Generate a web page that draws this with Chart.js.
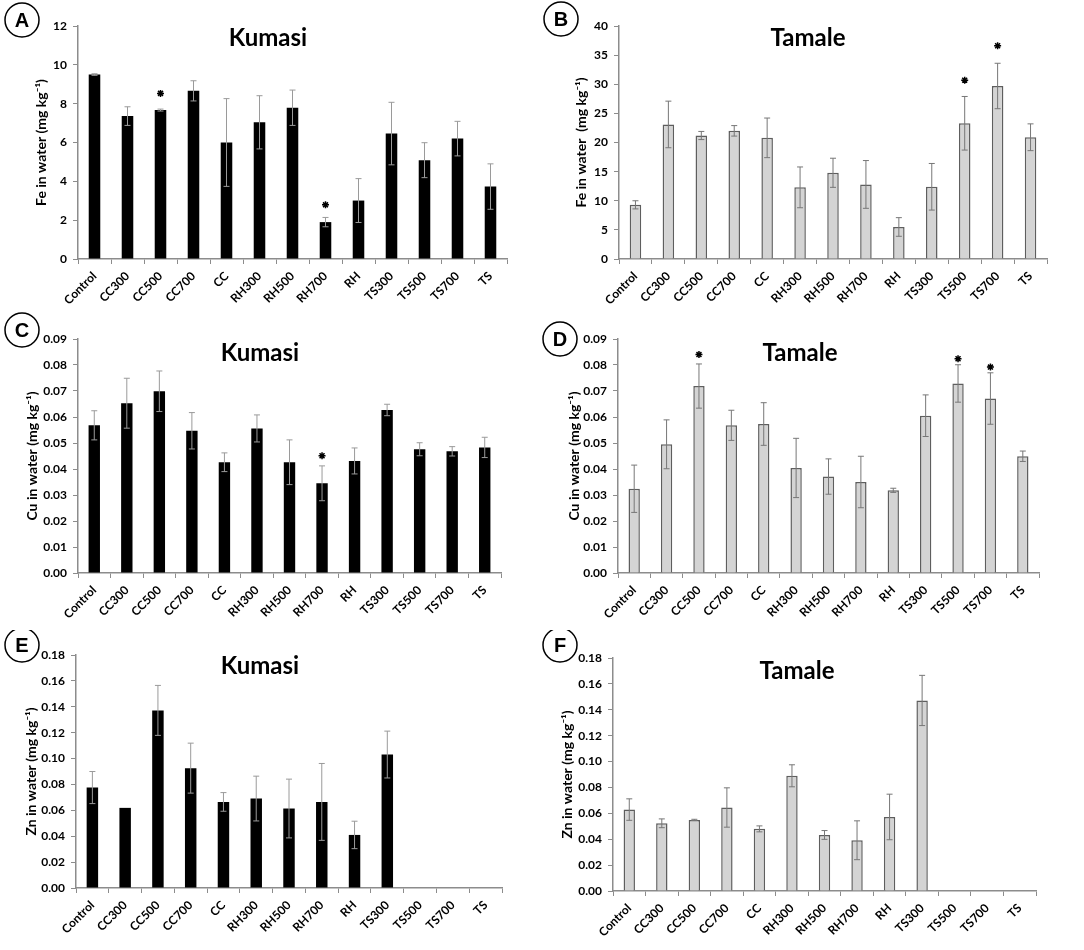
<!DOCTYPE html>
<html>
<head>
<meta charset="utf-8">
<script src="https://cdn.jsdelivr.net/npm/chart.js@4.4.0/dist/chart.umd.min.js"></script>
<style>
  body { margin: 0; background: #fff; width: 1084px; height: 950px; position: relative; overflow: hidden; }
  .panel { position: absolute; }
</style>
</head>
<body>
<div class="panel" style="left:0;top:0"><canvas id="panelA" width="540" height="310"></canvas></div>
<div class="panel" style="left:540px;top:0"><canvas id="panelB" width="544" height="310"></canvas></div>
<div class="panel" style="left:0;top:310px"><canvas id="panelC" width="540" height="320"></canvas></div>
<div class="panel" style="left:540px;top:310px"><canvas id="panelD" width="544" height="320"></canvas></div>
<div class="panel" style="left:0;top:630px"><canvas id="panelE" width="540" height="320"></canvas></div>
<div class="panel" style="left:540px;top:630px"><canvas id="panelF" width="544" height="320"></canvas></div>
<script>
const categories = ['Control', 'CC300', 'CC500', 'CC700', 'CC', 'RH300', 'RH500', 'RH700', 'RH', 'TS300', 'TS500', 'TS700', 'TS'];

// Fe (mg kg-1)
const feKumasi = [9.5, 7.36, 7.67, 8.66, 6.0, 7.04, 7.79, 1.9, 3.01, 6.46, 5.09, 6.2, 3.73];
const feKumasiErr = [0.04, 0.48, 0.05, 0.52, 2.26, 1.37, 0.91, 0.24, 1.13, 1.61, 0.9, 0.89, 1.17];
const feKumasiStars = [null, null, 8.53, null, null, null, null, 2.79, null, null, null, null, null];
const feTamale = [9.3, 23.1, 21.2, 22.0, 20.8, 12.3, 14.8, 12.8, 5.5, 12.4, 23.3, 29.7, 20.9];
const feTamaleErr = [0.7, 4.0, 0.7, 0.9, 3.4, 3.5, 2.5, 4.1, 1.6, 4.0, 4.6, 3.9, 2.3];
const feTamaleStars = [null, null, null, null, null, null, null, null, null, null, 30.7, 36.6, null];

// Cu (mg kg-1)
const cuKumasi = [0.0568, 0.0653, 0.0699, 0.0547, 0.0426, 0.0556, 0.0426, 0.0345, 0.0431, 0.0627, 0.0476, 0.0468, 0.0483];
const cuKumasiErr = [0.0056, 0.0096, 0.0078, 0.007, 0.0036, 0.0052, 0.0086, 0.0067, 0.005, 0.0022, 0.0025, 0.0018, 0.0039];
const cuKumasiStars = [null, null, null, null, null, null, null, 0.0451, null, null, null, null, null];
const cuTamale = [0.0324, 0.0495, 0.0719, 0.0568, 0.0573, 0.0404, 0.0371, 0.035, 0.0318, 0.0605, 0.0729, 0.0671, 0.0449];
const cuTamaleErr = [0.0091, 0.0094, 0.0085, 0.0058, 0.0082, 0.0114, 0.0068, 0.0099, 0.0008, 0.008, 0.0072, 0.0099, 0.002];
const cuTamaleStars = [null, null, 0.084, null, null, null, null, null, null, null, 0.0824, 0.0792, null];

// Zn (mg kg-1)
const znKumasi = [0.0776, 0.0619, 0.1372, 0.0926, 0.0665, 0.0691, 0.0614, 0.0665, 0.041, 0.1031, null, null, null];
const znKumasiErr = [0.0124, 0, 0.0193, 0.0193, 0.0072, 0.0173, 0.0227, 0.0297, 0.0106, 0.0181, null, null, null];
const znTamale = [0.0629, 0.0523, 0.0549, 0.0645, 0.048, 0.089, 0.0433, 0.0392, 0.0572, 0.1472, null, null, null];
const znTamaleErr = [0.0083, 0.0034, 0.0005, 0.0152, 0.0023, 0.0085, 0.0034, 0.015, 0.0176, 0.0194, null, null, null];

// y tick labels
const feKumasiTicks = [0, 2, 4, 6, 8, 10, 12];
const feTamaleTicks = [0, 5, 10, 15, 20, 25, 30, 35, 40];
const cuTicks = [0, 0.01, 0.02, 0.03, 0.04, 0.05, 0.06, 0.07, 0.08, 0.09];
const znTicks = [0, 0.02, 0.04, 0.06, 0.08, 0.10, 0.12, 0.14, 0.16, 0.18];

const FONT = 'Lato, "Open Sans", sans-serif';
const AXIS = '#8c8c8c';

// error bars, panel title and circled letter
const panelDecor = {
  id: 'panelDecor',
  afterDatasetsDraw(chart, args, opts) {
    const ctx = chart.ctx;
    const yScale = chart.scales.y;
    const meta = chart.getDatasetMeta(0);
    ctx.save();
    ctx.strokeStyle = opts.errColor;
    ctx.lineWidth = 1;
    opts.values.forEach((v, i) => {
      const e = opts.errors[i];
      if (v == null || !e) return;
      const x = meta.data[i].x;
      const yt = yScale.getPixelForValue(v + e);
      const yb = yScale.getPixelForValue(v - e);
      ctx.beginPath();
      ctx.moveTo(x, yt); ctx.lineTo(x, yb);
      ctx.moveTo(x - 3, yt); ctx.lineTo(x + 3, yt);
      ctx.moveTo(x - 3, yb); ctx.lineTo(x + 3, yb);
      ctx.stroke();
    });

    ctx.fillStyle = '#000';
    ctx.textAlign = 'center';
    ctx.textBaseline = 'middle';
    ctx.font = 'bold 24px ' + FONT;
    ctx.fillText(opts.title, opts.titleX, opts.titleY);

    ctx.strokeStyle = '#000';
    ctx.lineWidth = 1.5;
    ctx.beginPath();
    ctx.arc(opts.circle[0], opts.circle[1], 17, 0, Math.PI * 2);
    ctx.stroke();
    ctx.font = 'bold 20px "Liberation Sans", Arial, sans-serif';
    ctx.fillText(opts.letter, opts.circle[0], opts.circle[1] + 1);
    ctx.restore();
  }
};

function makePanel(id, p) {
  const canvas = document.getElementById(id);
  const w = canvas.width, h = canvas.height;
  const dark = p.site === 'Kumasi';
  new Chart(canvas, {
    type: 'bar',
    data: {
      labels: categories,
      datasets: [
        {
          type: 'bar',
          data: p.values,
          backgroundColor: dark ? '#000' : '#d4d4d4',
          borderColor: dark ? '#000' : '#5e5e5e',
          borderWidth: dark ? 0 : 1.5,
          barPercentage: 0.35,
          categoryPercentage: 1
        },
        {
          type: 'line',
          data: p.stars,
          showLine: false,
          pointStyle: 'star',
          pointRadius: 3.5,
          borderColor: '#000',
          backgroundColor: '#000',
          borderWidth: 1.5
        }
      ]
    },
    options: {
      responsive: false,
      animation: false,
      layout: { padding: { left: 0, top: p.area[1], right: w - p.area[2], bottom: 0 } },
      plugins: {
        legend: { display: false },
        tooltip: { enabled: false },
        panelDecor: {
          values: p.values, errors: p.errors,
          errColor: dark ? '#9a9a9a' : '#777',
          title: p.site, titleX: p.titlePos[0], titleY: p.titlePos[1],
          letter: p.letter, circle: p.circle
        }
      },
      scales: {
        x: {
          afterFit: s => { s.height = h - p.area[3]; },
          ticks: { color: '#000', font: { family: FONT, weight: 'bold', size: 12 }, minRotation: 45, maxRotation: 45, autoSkip: false, padding: 5 },
          grid: { offset: true, drawOnChartArea: false, tickLength: 5, color: AXIS },
          border: { color: AXIS, width: 1.5 }
        },
        y: {
          min: p.ticks[0],
          max: p.ticks[p.ticks.length - 1],
          afterBuildTicks: s => { s.ticks = p.ticks.map(v => ({ value: v })); },
          afterFit: s => { s.width = p.area[0]; },
          ticks: { color: '#000', font: { family: FONT, weight: 'bold', size: 12 }, padding: 6, callback: v => v.toFixed(p.decimals) },
          grid: { drawOnChartArea: false, tickLength: 5, color: AXIS },
          border: { color: AXIS, width: 1.5 },
          title: { display: true, text: p.yTitle, color: '#000', font: { family: FONT, weight: 'bold', size: 14 }, padding: { top: p.yTitlePad, bottom: 0 } }
        }
      }
    },
    plugins: [panelDecor]
  });
}

makePanel('panelA', { site: 'Kumasi', letter: 'A', values: feKumasi, errors: feKumasiErr, stars: feKumasiStars,
  ticks: feKumasiTicks, decimals: 0, yTitle: 'Fe in water (mg kg⁻¹)', yTitlePad: 33,
  area: [78, 26, 507, 259], titlePos: [268, 38], circle: [22, 20] });
makePanel('panelB', { site: 'Tamale', letter: 'B', values: feTamale, errors: feTamaleErr, stars: feTamaleStars,
  ticks: feTamaleTicks, decimals: 0, yTitle: 'Fe in water  (mg kg⁻¹)', yTitlePad: 33,
  area: [79, 26, 507, 259], titlePos: [268, 38], circle: [21, 19] });
makePanel('panelC', { site: 'Kumasi', letter: 'C', values: cuKumasi, errors: cuKumasiErr, stars: cuKumasiStars,
  ticks: cuTicks, decimals: 2, yTitle: 'Cu in water (mg kg⁻¹)', yTitlePad: 24,
  area: [78, 29, 501, 263], titlePos: [260, 43], circle: [22, 20] });
makePanel('panelD', { site: 'Tamale', letter: 'D', values: cuTamale, errors: cuTamaleErr, stars: cuTamaleStars,
  ticks: cuTicks, decimals: 2, yTitle: 'Cu in water (mg kg⁻¹)', yTitlePad: 26,
  area: [78, 29, 499, 263], titlePos: [260, 43], circle: [20, 29] });
makePanel('panelE', { site: 'Kumasi', letter: 'E', values: znKumasi, errors: znKumasiErr, stars: categories.map(() => null),
  ticks: znTicks, decimals: 2, yTitle: 'Zn in water (mg kg⁻¹)', yTitlePad: 23,
  area: [76, 25, 502, 258], titlePos: [260, 36], circle: [22, 15] });
makePanel('panelF', { site: 'Tamale', letter: 'F', values: znTamale, errors: znTamaleErr, stars: categories.map(() => null),
  ticks: znTicks, decimals: 2, yTitle: 'Zn in water (mg kg⁻¹)', yTitlePad: 19,
  area: [73, 28, 496, 261], titlePos: [257, 41], circle: [20, 15] });
</script>
</body>
</html>
